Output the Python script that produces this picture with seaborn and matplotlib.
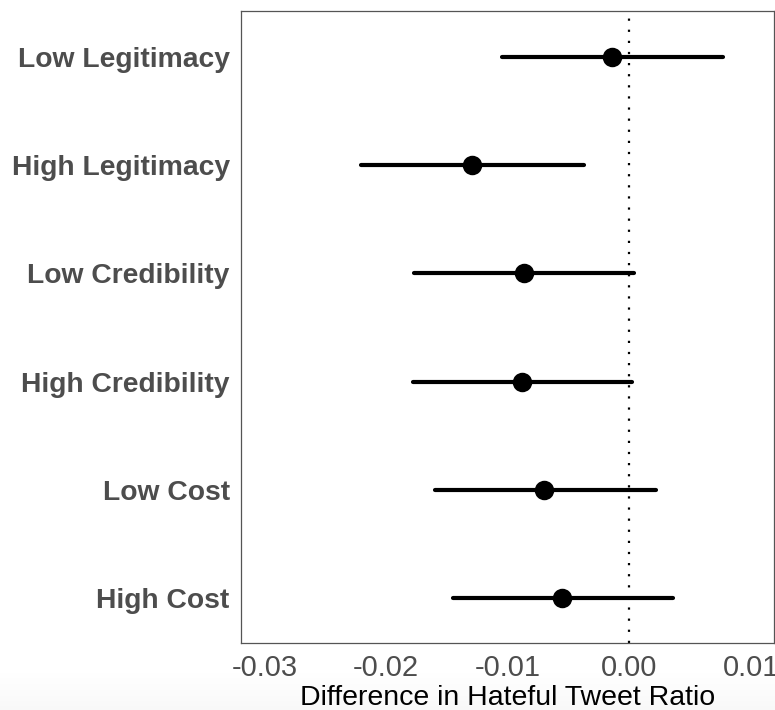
import numpy as np
import pandas as pd
import matplotlib
matplotlib.use("Agg")
import matplotlib.pyplot as plt
import seaborn as sns

# Estimates and 95% intervals
conditions = ["Low Legitimacy", "High Legitimacy", "Low Credibility",
              "High Credibility", "Low Cost", "High Cost"]
estimate = [-0.0014, -0.0129, -0.0087, -0.0088, -0.0070, -0.0055]
ci_low = [-0.0105, -0.0221, -0.0177, -0.0178, -0.0160, -0.0145]
ci_high = [0.0077, -0.0037, 0.0004, 0.0002, 0.0022, 0.0036]
xticks = [-0.03, -0.02, -0.01, 0.00, 0.01]

# long table: low / estimate / high per condition; median = estimate, min-max = interval
df = pd.DataFrame({
    "condition": np.repeat(conditions, 3),
    "value": np.column_stack([ci_low, estimate, ci_high]).ravel(),
})

sns.set_style("white")
plt.rcParams["font.family"] = ["Liberation Sans", "DejaVu Sans"]

fig = plt.figure(figsize=(7.75, 7.1), dpi=100)

# faint grey fade at the bottom of the screenshot
bg = fig.add_axes([0, 0, 1, 0.055], zorder=-5)
bg.imshow(np.linspace(0, 1, 50).reshape(-1, 1), cmap="Greys", vmin=0, vmax=18,
          aspect="auto", extent=[0, 1, 0, 1], origin="upper")
bg.axis("off")

ax = fig.add_axes([0.3116, 0.0944, 0.6871, 0.8901])
ax.patch.set_alpha(0)

sns.pointplot(data=df, x="value", y="condition", order=conditions,
              estimator="median", errorbar=("pi", 100), linestyle="none",
              color="black", markersize=12, err_kws={"linewidth": 3},
              capsize=0, ax=ax)

ax.axvline(0, color="black", linestyle=(0, (1, 4)), linewidth=1.6, zorder=0)

ax.set_xlim(-0.0319, 0.0119)
ax.set_ylim(5.416, -0.425)
ax.set_xticks(xticks)
ax.set_xticklabels([f"{t:.2f}" for t in xticks])
ax.set_xlabel("Difference in Hateful Tweet Ratio", fontsize=20.5, color="black",
              labelpad=2)
ax.set_ylabel("")
ax.tick_params(axis="x", labelsize=21, labelcolor="#4D4D4D", colors="#333333",
               length=5, width=0.8, pad=3)
ax.tick_params(axis="y", labelsize=20.3, labelcolor="#4D4D4D", colors="#333333",
               length=5, width=0.8)
for lab in ax.get_yticklabels():
    lab.set_fontweight("bold")
for s in ax.spines.values():
    s.set_color("#555555")
    s.set_linewidth(0.9)
ax.grid(False)

fig.savefig("out.png", dpi=100)
